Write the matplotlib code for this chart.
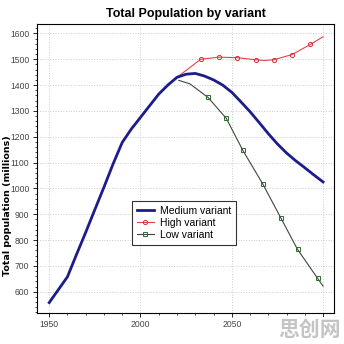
import numpy as np
import matplotlib
matplotlib.use("Agg")
import matplotlib.pyplot as plt
from matplotlib.ticker import MultipleLocator

plt.rcParams['font.family'] = ['Liberation Sans', 'DejaVu Sans']

# Medium variant (millions)
medium_years = [1950, 1955, 1960, 1965, 1970, 1975, 1980, 1985, 1990, 1995,
                2000, 2005, 2010, 2015, 2020, 2025, 2030, 2035, 2040, 2045,
                2050, 2055, 2060, 2065, 2070, 2075, 2080, 2085, 2090, 2095, 2100]
medium_vals = [558, 608, 658, 745, 830, 918, 1005, 1095, 1178, 1230,
               1275, 1320, 1365, 1400, 1430, 1442, 1445, 1435, 1420, 1400,
               1372, 1335, 1297, 1255, 1212, 1172, 1137, 1107, 1080, 1052, 1025]

# High variant
high_years = [2020, 2033, 2043, 2053, 2063, 2068, 2073, 2083, 2093, 2100]
high_vals = [1430, 1500, 1508, 1506, 1498, 1495, 1498, 1518, 1557, 1587]
high_marks = [1, 2, 3, 4, 6, 7, 8]

# Low variant
low_years = [2021, 2027, 2037, 2047, 2056, 2067, 2077, 2086, 2097, 2100]
low_vals = [1418, 1405, 1352, 1271, 1148, 1017, 884, 764, 652, 622]
low_marks = [2, 3, 4, 5, 6, 7, 8]

fig = plt.figure(figsize=(3.44, 3.44), dpi=100)
ax = fig.add_axes([0.108, 0.091, 0.863, 0.839])

ax.plot(medium_years, medium_vals, color='#1c1c8a', linewidth=2.0,
        label='Medium variant', zorder=3)
ax.plot(high_years, high_vals, color='#e04545', linewidth=0.8,
        marker='o', markersize=3, markerfacecolor='none',
        markeredgecolor='#d03030', markeredgewidth=0.7,
        markevery=high_marks, label='High variant', zorder=2)
ax.plot(low_years, low_vals, color='#3a4a3a', linewidth=0.8,
        marker='s', markersize=3.2, markerfacecolor='none',
        markeredgecolor='#2e6b2e', markeredgewidth=0.7,
        markevery=low_marks, label='Low variant', zorder=2)

ax.set_xlim(1943.4, 2106)
ax.set_ylim(519, 1636)
ax.set_xticks([1950, 2000, 2050, 2100])
ax.set_yticks(range(600, 1601, 100))
ax.yaxis.set_minor_locator(MultipleLocator(20))
ax.xaxis.set_minor_locator(MultipleLocator(10))
ax.tick_params(axis='both', which='major', labelsize=6.2, length=3,
               width=0.6, labelcolor='#444444', pad=2.5)
ax.tick_params(axis='both', which='minor', length=1.5, width=0.5)
ax.grid(True, which='major', linestyle=':', color='#cccccc', linewidth=0.7)
for s in ax.spines.values():
    s.set_linewidth(0.8)

ax.set_title('Total Population by variant', fontsize=9, fontweight='bold', pad=5)
ax.set_ylabel('Total population (millions)', fontsize=6.8, fontweight='bold',
              family='DejaVu Sans')
ax.yaxis.set_label_coords(-0.086, 0.37)

leg = ax.legend(loc='upper left', bbox_to_anchor=(0.32, 0.387), fontsize=7.5,
                frameon=True, fancybox=False, edgecolor='black',
                handlelength=1.6, handletextpad=0.6, borderpad=0.45,
                labelspacing=0.2, borderaxespad=0)
leg.get_frame().set_linewidth(0.8)

fig.text(0.99, 0.012, '思创网', fontsize=15, fontweight='bold', color='#c4c4c4',
         ha='right', va='bottom', family=['Noto Sans CJK SC', 'DejaVu Sans'],
         bbox=dict(facecolor='white', edgecolor='none', pad=1))

fig.savefig('out.png', dpi=100)
